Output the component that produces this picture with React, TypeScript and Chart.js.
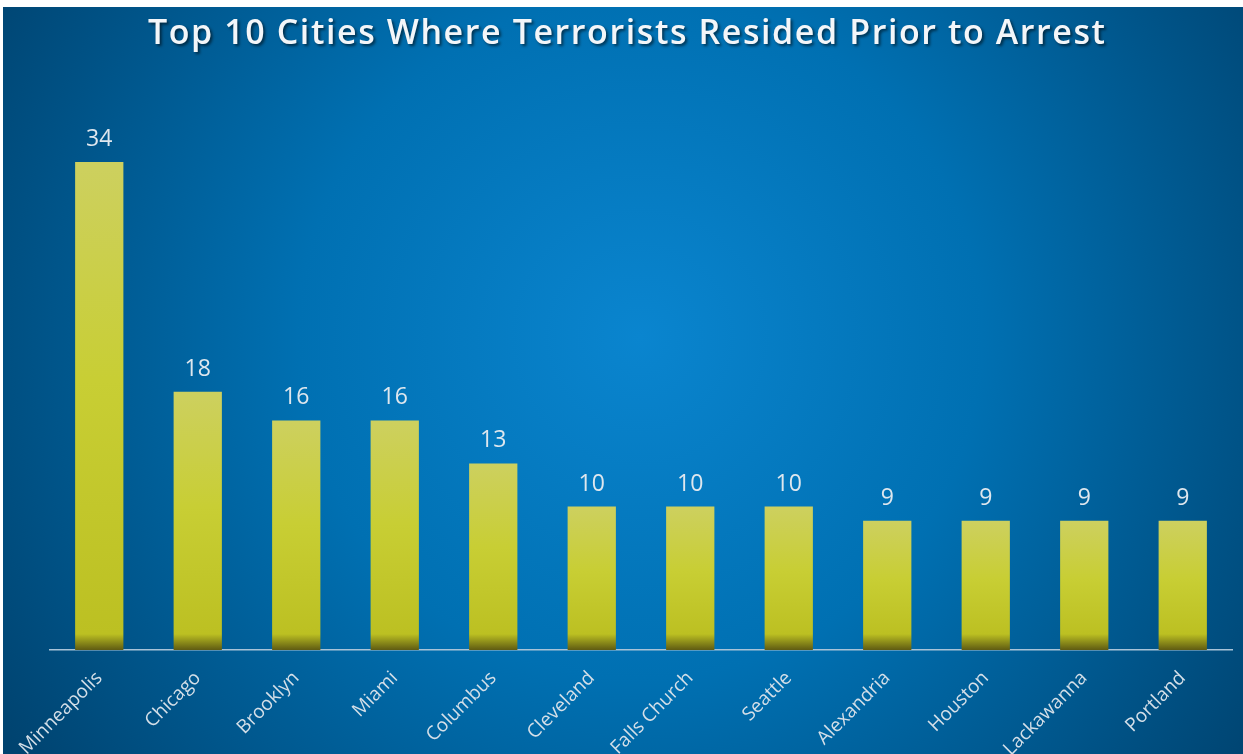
import React, { useEffect, useRef } from "react";
import { Chart, registerables } from "chart.js";

Chart.register(...registerables);

const TITLE = "Top 10 Cities Where Terrorists Resided Prior to Arrest";
const cities = [
  "Minneapolis",
  "Chicago",
  "Brooklyn",
  "Miami",
  "Columbus",
  "Cleveland",
  "Falls Church",
  "Seattle",
  "Alexandria",
  "Houston",
  "Lackawanna",
  "Portland",
];
const counts = [34, 18, 16, 16, 13, 10, 10, 10, 9, 9, 9, 9];

const W = 1240;
const H = 747;

const bgPlugin = {
  id: "bgPlugin",
  beforeDraw(chart: any) {
    const ctx = chart.ctx;
    ctx.save();
    const g = ctx.createRadialGradient(637, 330, 0, 637, 330, 760);
    g.addColorStop(0, "#0a85cf");
    g.addColorStop(0.45, "#0070b2");
    g.addColorStop(1, "#00426e");
    ctx.fillStyle = g;
    ctx.fillRect(0, 0, W, H);

    // title
    ctx.font = '600 34px "Open Sans"';
    ctx.textBaseline = "alphabetic";
    ctx.textAlign = "left";
    const target = 957;
    const base = ctx.measureText(TITLE).width;
    const ls = (target - base) / (TITLE.length - 1);
    (ctx as any).letterSpacing = ls.toFixed(2) + "px";
    const x0 = 145;
    ctx.shadowColor = "rgba(0,0,0,0.55)";
    ctx.shadowOffsetX = 2;
    ctx.shadowOffsetY = 2;
    ctx.shadowBlur = 3;
    ctx.fillStyle = "#f3f6f9";
    ctx.fillText(TITLE, x0, 37);
    ctx.restore();
  },
  afterDatasetsDraw(chart: any) {
    const ctx = chart.ctx;
    const meta = chart.getDatasetMeta(0);
    ctx.save();
    ctx.font = '23px "Open Sans"';
    ctx.fillStyle = "#dfe7ee";
    ctx.textAlign = "center";
    ctx.textBaseline = "alphabetic";
    meta.data.forEach((bar: any, i: number) => {
      ctx.fillText(String(counts[i]), bar.x, bar.y - 16);
    });
    ctx.restore();
  },
};

export default function App() {
  const ref = useRef<HTMLCanvasElement | null>(null);
  useEffect(() => {
    if (!ref.current) return;
    const chart = new Chart(ref.current, {
      type: "bar",
      data: {
        labels: cities,
        datasets: [
          {
            data: counts,
            barPercentage: 0.49,
            categoryPercentage: 1,
            borderWidth: 0,
            backgroundColor: (c: any) => {
              const chartObj = c.chart;
              const ys = chartObj.scales && chartObj.scales.y;
              if (!ys || !chartObj.chartArea || c.raw === undefined) return "#c6cd2c";
              const top = ys.getPixelForValue(c.raw);
              const bottom = ys.getPixelForValue(0);
              const h = Math.max(bottom - top, 1);
              const g = chartObj.ctx.createLinearGradient(0, top, 0, bottom);
              const f = Math.min(0.99, Math.max(0, 1 - 16 / h));
              g.addColorStop(0, "#cdd05f");
              g.addColorStop(Math.min(f, 0.45), "#c8ce34");
              g.addColorStop(f, "#bcc022");
              g.addColorStop(1, "#5f5b12");
              return g;
            },
          },
        ],
      },
      options: {
        responsive: false,
        animation: false,
        devicePixelRatio: 1,
        layout: { padding: { top: 69, left: 47, right: 11, bottom: 0 } },
        plugins: {
          legend: { display: false },
          title: { display: false },
          tooltip: { enabled: false },
        },
        scales: {
          x: {
            grid: { display: false, drawTicks: false },
            border: { display: true, color: "#a8c3d8", width: 1.5 },
            ticks: {
              color: "#d4dfe8",
              font: { family: "Open Sans", size: 19 },
              minRotation: 45,
              maxRotation: 45,
              autoSkip: false,
              padding: 17,
            },
            afterFit: (scale: any) => {
              scale.height = 104;
            },
          },
          y: {
            display: false,
            min: 0,
            max: 40,
          },
        },
      },
      plugins: [bgPlugin],
    } as any);
    return () => chart.destroy();
  }, []);
  return (
    <div
      style={{
        position: "fixed",
        left: 3,
        top: 7,
        width: W,
        height: H,
        overflow: "hidden",
      }}
    >
      <canvas ref={ref} width={W} height={H} style={{ display: "block", width: W, height: H }} />
    </div>
  );
}
